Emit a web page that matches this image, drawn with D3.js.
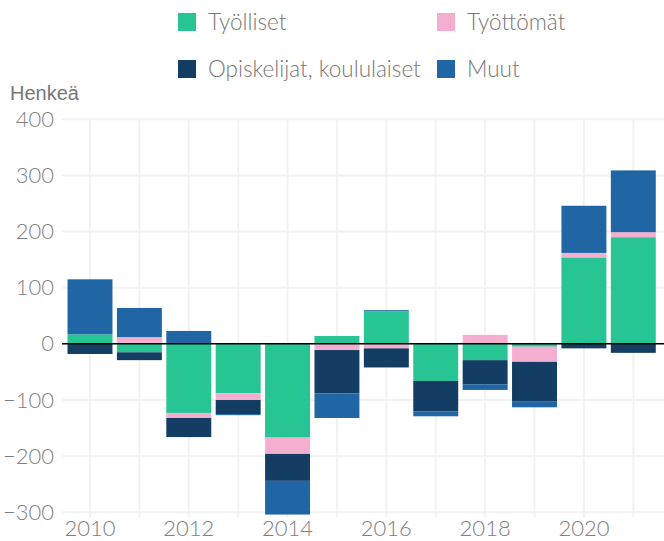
<!DOCTYPE html>
<html>
<head>
<meta charset="utf-8">
<script src="https://cdn.jsdelivr.net/npm/d3@7"></script>
<style>
  body { margin: 0; background: #fff; }
  svg { display: block; }
</style>
</head>
<body>
<script>
"use strict";

var years = [2010, 2011, 2012, 2013, 2014, 2015, 2016, 2017, 2018, 2019, 2020, 2021];
var tyolliset = [17, -15, -123, -88, -167, 14, 58, -66, -29, -5, 154, 190];
var tyottomat = [0, 12, -9, -12, -29, -11, -8, 0, 16, -27, 8, 9];
var opiskelijat = [-18, -14, -34, -25, -48, -77, -34, -54, -43, -70, -8, -16];
var muut = [98, 52, 23, -2, -60, -44, 2, -9, -10, -11, 84, 110];
var yTicks = [-300, -200, -100, 0, 100, 200, 300, 400];
var xTickYears = [2010, 2012, 2014, 2016, 2018, 2020];

var seriesNames = ["Työlliset", "Työttömät", "Opiskelijat, koululaiset", "Muut"];
var seriesValues = [tyolliset, tyottomat, opiskelijat, muut];
var colors = ["#27c494", "#f4afd0", "#143d63", "#2066a4"];

function init() {
  var w = 664;
  var h = 541;
  var left = 62, right = 664, top = 119.3, bottom = 512.3;

  var table = years.map(function (y, i) {
    var row = { year: y };
    seriesNames.forEach(function (s, k) { row[s] = seriesValues[k][i]; });
    return row;
  });

  var stack = d3.stack()
    .keys(seriesNames)
    .order(d3.stackOrderNone)
    .offset(d3.stackOffsetDiverging);
  var layers = stack(table);

  var xScale = d3.scaleBand()
    .domain(years)
    .range([65.3, 658])
    .paddingInner(0.09)
    .paddingOuter(0.045);

  var yScale = d3.scaleLinear()
    .domain([-300, 400])
    .range([bottom, top]);

  var svg = d3.select("body")
    .append("svg")
    .attr("width", w)
    .attr("height", h);

  // grid
  svg.append("g")
    .selectAll("line")
    .data(yTicks)
    .enter()
    .append("line")
    .attr("x1", left)
    .attr("x2", right)
    .attr("y1", function (d) { return yScale(d); })
    .attr("y2", function (d) { return yScale(d); })
    .attr("stroke", "#f2f2f2")
    .attr("stroke-width", 2);

  svg.append("g")
    .selectAll("line")
    .data(years)
    .enter()
    .append("line")
    .attr("x1", function (d) { return xScale(d) + xScale.bandwidth() / 2; })
    .attr("x2", function (d) { return xScale(d) + xScale.bandwidth() / 2; })
    .attr("y1", top)
    .attr("y2", bottom + 5)
    .attr("stroke", "#f2f2f2")
    .attr("stroke-width", 2);

  // bars
  svg.append("g")
    .selectAll("g")
    .data(layers)
    .enter()
    .append("g")
    .attr("fill", function (d, i) { return colors[i]; })
    .selectAll("rect")
    .data(function (d) { return d; })
    .enter()
    .append("rect")
    .attr("x", function (d) { return xScale(d.data.year); })
    .attr("width", xScale.bandwidth())
    .attr("y", function (d) { return yScale(Math.max(d[0], d[1])); })
    .attr("height", function (d) { return Math.abs(yScale(d[0]) - yScale(d[1])); });

  // zero line
  svg.append("line")
    .attr("x1", left)
    .attr("x2", right)
    .attr("y1", yScale(0))
    .attr("y2", yScale(0))
    .attr("stroke", "#000")
    .attr("stroke-width", 1.5);

  // y axis labels
  var yAxis = d3.axisLeft(yScale).tickValues(yTicks).tickSize(0).tickPadding(8);
  var gy = svg.append("g")
    .attr("transform", "translate(" + left + ",0)")
    .call(yAxis);
  gy.select(".domain").remove();
  gy.selectAll("text")
    .attr("font-family", "Lato, sans-serif")
    .attr("font-weight", 300)
    .attr("font-size", "22px")
    .attr("fill", "#808080");

  // x axis labels
  var xAxis = d3.axisBottom(xScale).tickValues(xTickYears).tickSize(0).tickPadding(8);
  var gx = svg.append("g")
    .attr("transform", "translate(0," + bottom + ")")
    .call(xAxis);
  gx.select(".domain").remove();
  gx.selectAll("text")
    .attr("font-family", "Lato, sans-serif")
    .attr("font-weight", 300)
    .attr("font-size", "22px")
    .attr("fill", "#808080");

  // y title
  svg.append("text")
    .attr("x", 10)
    .attr("y", 100)
    .text("Henkeä")
    .attr("font-family", "'Liberation Sans', Arial, sans-serif")
    .attr("font-size", "20px")
    .attr("fill", "#777");

  // legend
  var legendPos = [[178, 13], [437, 13], [178, 60], [437, 60]];
  var legend = svg.append("g")
    .selectAll("g")
    .data(seriesNames)
    .enter()
    .append("g")
    .attr("transform", function (d, i) {
      return "translate(" + legendPos[i][0] + "," + legendPos[i][1] + ")";
    });
  legend.append("rect")
    .attr("width", 18)
    .attr("height", 18)
    .attr("fill", function (d, i) { return colors[i]; });
  legend.append("text")
    .attr("x", 30)
    .attr("y", 17)
    .text(function (d) { return d; })
    .attr("font-family", "Lato, sans-serif")
    .attr("font-weight", 300)
    .attr("font-size", "22.5px")
    .attr("fill", "#777");
}

window.onload = init;
</script>
</body>
</html>
